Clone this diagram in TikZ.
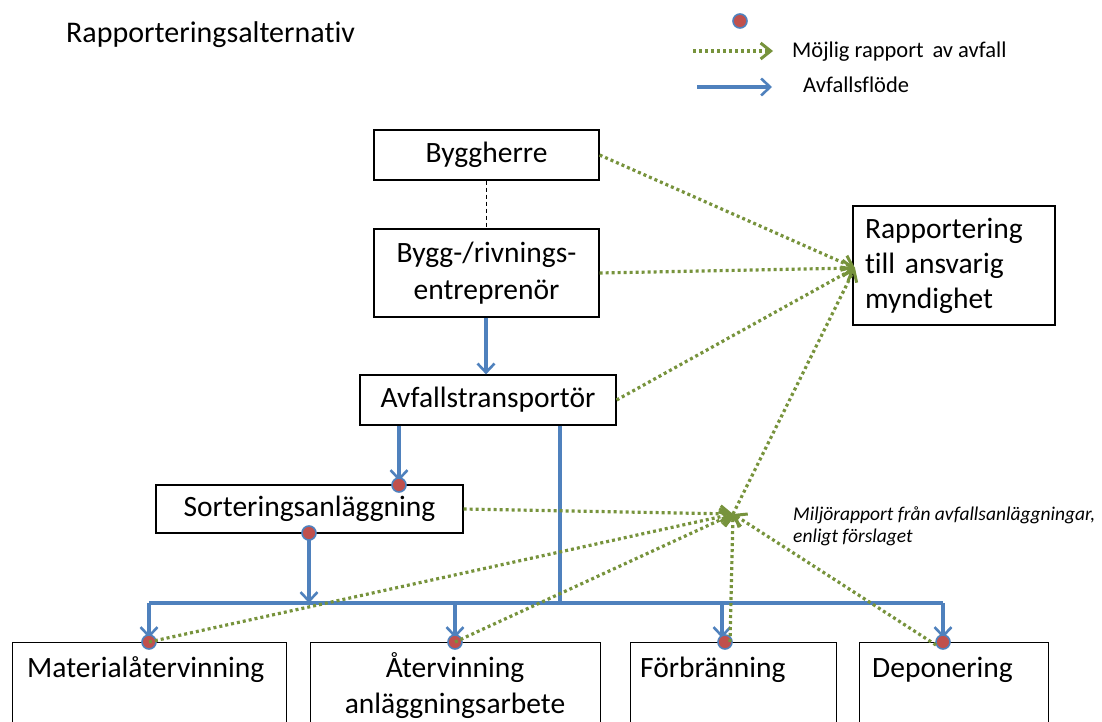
\documentclass[tikz,border=0pt]{standalone}
\usepackage{fontspec}
\setmainfont{Carlito}[Ligatures=NoCommon]
\usetikzlibrary{arrows.meta}
\definecolor{flowblue}{HTML}{4F81BD}
\definecolor{repgreen}{HTML}{77933C}
\definecolor{dotred}{HTML}{C0504D}
\begin{document}
\begin{tikzpicture}[x=1pt,y=-1pt,
  boxtext/.style={font=\fontsize{29.5}{37}\selectfont},
  box/.style={draw=black, line width=1.2pt, inner sep=0pt, boxtext, align=center},
  bbox/.style={draw=black, line width=1.2pt, inner sep=0pt, anchor=north west},
  flowline/.style={draw=flowblue, line width=3.2pt},
  flow/.style={flowline, -{Straight Barb[length=9pt,width=17pt,line width=2.6pt]}},
  rep/.style={draw=repgreen, line width=3.2pt, dash pattern=on 3pt off 3pt,
     -{Straight Barb[length=10pt,width=16pt,line width=3pt]}},
  reddot/.style={circle, fill=dotred, draw=flowblue, line width=1.6pt, minimum size=14pt, inner sep=0pt},
  linkdash/.style={draw=black, line width=1pt, dash pattern=on 4pt off 3pt},
  legtext/.style={font=\fontsize{22.5}{26}\selectfont, anchor=base west, inner sep=0pt},
  notetext/.style={font=\fontsize{19.5}{22}\itshape, anchor=base west, inner sep=0pt},
]
\useasboundingbox (0,0) rectangle (1102,722);
\clip (0,0) rectangle (1102,722);

% title
\node[font=\fontsize{30}{34}\selectfont, anchor=base west, inner sep=0pt] (title) at (66,43) {Rapporteringsalternativ};

% legend
\node[reddot] (legDot) at (740,21) {};
\coordinate (legG1) at (693,51);
\coordinate (legG2) at (773,51);
\coordinate (legB1) at (697,87);
\coordinate (legB2) at (772,87);
\node[legtext] (legGT) at (792,58) {Möjlig rapport\, av avfall};
\node[legtext] (legBT) at (803,93) {Avfallsflöde};

% boxes
\node[box, minimum width=225, minimum height=50] (byg) at (486.5,155) {Byggherre};
\node[box, minimum width=225, minimum height=88] (bre) at (486.5,273) {Bygg-/rivnings-\\entreprenör};
\node[box, minimum width=256, minimum height=50] (avf) at (488,400) {Avfallstransportör};
\node[box, minimum width=307, minimum height=48] (sor) at (309.5,509) {Sorteringsanläggning};
\node[box, minimum width=202, minimum height=119, text width=178, inner xsep=12, align=left,
      font=\fontsize{29.5}{35}\selectfont] (rap) at (954,265.5) {Rapportering\\till ansvarig\\myndighet};

\node[bbox, minimum width=274, minimum height=110] (mat) at (12,642) {};
\node[bbox, minimum width=290, minimum height=110] (ater) at (310,642) {};
\node[bbox, minimum width=206, minimum height=110] (forb) at (630,642) {};
\node[bbox, minimum width=189, minimum height=110] (dep) at (859,642) {};
\node[boxtext, anchor=base west, inner sep=0pt] (matT) at (27,677) {Materialåtervinning};
\node[boxtext, anchor=base, inner sep=0pt] (aterT) at (455,677) {Återvinning};
\node[boxtext, anchor=base, inner sep=0pt] (aterT2) at (455,713) {anläggningsarbete};
\node[boxtext, anchor=base west, inner sep=0pt] (forbT) at (640,677) {Förbränning};
\node[boxtext, anchor=base west, inner sep=0pt] (depT) at (872,677) {Deponering};

% note
\node[notetext] (note1) at (793,520) {Miljörapport från avfallsanläggningar,};
\node[notetext] (note2) at (793,542) {enligt förslaget};

% junction coordinates
\coordinate (hub) at (733,514);
\coordinate (rapIn) at (855,268);
\coordinate (busL) at (149,603);
\coordinate (busR) at (943,603);
\coordinate (busA) at (560,603);
\coordinate (busS) at (309,603);
\coordinate (busAt) at (455,603);
\coordinate (busF) at (722,603);
\coordinate (sortIn) at (399,485);

% dashed link
\draw[linkdash] (byg.south) -- (bre.north);

% blue flow
\draw[flow] (legB1) -- (legB2);
\draw[flow] (bre.south -| 486,0) -- (avf.north -| 486,0);
\draw[flow] (avf.south -| sortIn) -- ([yshift=4pt]sortIn);
\draw[flowline] (avf.south -| busA) -- (busA);
\draw[flow] (309,533) -- (busS);
\draw[flowline] (busL) -- (busR);
\draw[flow] (busL) -- ([yshift=4pt]busL |- mat.north);
\draw[flow] (busAt) -- ([yshift=4pt]busAt |- ater.north);
\draw[flow] (busF) -- ([yshift=4pt]busF |- forb.north);
\draw[flow] (busR) -- ([yshift=4pt]busR |- dep.north);

% red dots
\node[reddot] (dSortIn) at (sortIn) {};
\node[reddot] (dSortOut) at (309,533) {};
\node[reddot] (dMat) at (149,642) {};
\node[reddot] (dAter) at (455,642) {};
\node[reddot] (dForb) at (725,642) {};
\node[reddot] (dDep) at (943,642) {};

% green reporting
\draw[rep] (legG1) -- (legG2);
\draw[rep] (byg.east) -- (rapIn);
\draw[rep] (bre.east) -- (rapIn);
\draw[rep] (avf.east) -- (rapIn);
\draw[rep] (hub) -- (rapIn);
\draw[rep] (sor.east) -- (hub);
\draw[rep] (dMat.center) -- (hub);
\draw[rep] (dAter.center) -- (hub);
\draw[rep] ([xshift=5pt]dForb.center) -- (hub);
\draw[rep] ([xshift=-7pt,yshift=-3pt]dDep.center) -- (hub);
\end{tikzpicture}
\end{document}
